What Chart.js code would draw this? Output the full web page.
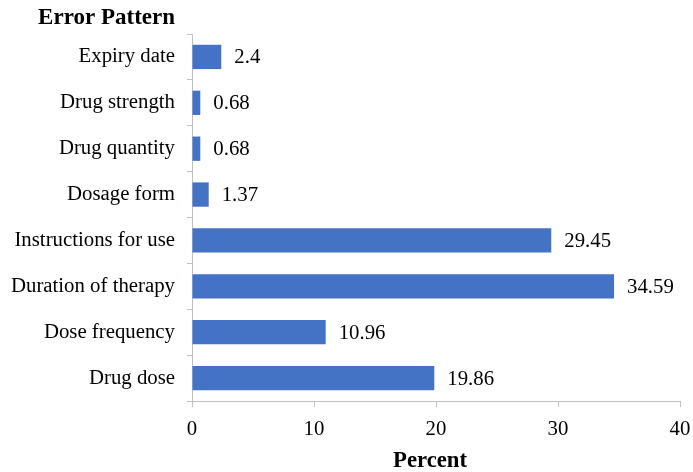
<!DOCTYPE html>
<html>
<head>
<meta charset="utf-8">
<script src="https://cdn.jsdelivr.net/npm/chart.js@4/dist/chart.umd.min.js"></script>
<style>
  html, body { margin: 0; padding: 0; background: #fff; }
  #wrap { width: 693px; height: 472px; }
</style>
</head>
<body>
<div id="wrap"><canvas id="c" width="693" height="472"></canvas></div>
<script>
// Error categories, listed top to bottom
const categories = [
  'Expiry date',
  'Drug strength',
  'Drug quantity',
  'Dosage form',
  'Instructions for use',
  'Duration of therapy',
  'Dose frequency',
  'Drug dose'
];
// Share of errors per category (%)
const percents = [2.4, 0.68, 0.68, 1.37, 29.45, 34.59, 10.96, 19.86];
const percentLabels = ['2.4', '0.68', '0.68', '1.37', '29.45', '34.59', '10.96', '19.86'];
const xTicks = [0, 10, 20, 30, 40];

const SERIF = "'Liberation Serif', 'Times New Roman', serif";
const AXIS_GREY = '#bfbfbf';
const TEXT_SIZE = 20.8;

// Writes each value just past the end of its bar
const valueLabels = {
  id: 'valueLabels',
  afterDatasetsDraw(chart) {
    const ctx = chart.ctx;
    const meta = chart.getDatasetMeta(0);
    ctx.save();
    ctx.font = TEXT_SIZE + 'px ' + SERIF;
    ctx.fillStyle = '#000';
    ctx.textAlign = 'left';
    ctx.textBaseline = 'middle';
    meta.data.forEach((bar, i) => {
      ctx.fillText(percentLabels[i], bar.x + 13, bar.y + 1);
    });
    ctx.restore();
  }
};

// Heading above the category labels and caption under the value ticks
const captions = {
  id: 'captions',
  afterDraw(chart) {
    const ctx = chart.ctx;
    const area = chart.chartArea;
    ctx.save();
    ctx.fillStyle = '#000';
    ctx.textBaseline = 'middle';

    ctx.font = 'bold 23px ' + SERIF;
    ctx.textAlign = 'right';
    ctx.fillText('Error Pattern', area.left - 17, 18);

    ctx.font = 'bold 22.7px ' + SERIF;
    ctx.textAlign = 'center';
    ctx.fillText('Percent', (area.left + area.right) / 2 - 6, chart.height - 11);
    ctx.restore();
  }
};

new Chart(document.getElementById('c'), {
  type: 'bar',
  data: {
    labels: categories,
    datasets: [{
      data: percents,
      backgroundColor: '#4472C4',
      borderWidth: 0,
      barPercentage: 0.53,
      categoryPercentage: 1.0
    }]
  },
  plugins: [valueLabels, captions],
  options: {
    indexAxis: 'y',
    responsive: false,
    animation: false,
    layout: { padding: { left: 0, right: 13, top: 34, bottom: 0 } },
    plugins: {
      legend: { display: false },
      tooltip: { enabled: false },
      title: { display: false }
    },
    scales: {
      x: {
        min: 0,
        max: 40,
        afterBuildTicks(scale) {
          scale.ticks = xTicks.map(v => ({ value: v }));
        },
        afterFit(scale) {
          scale.height = 71;
          scale.paddingLeft = 0;
          scale.paddingRight = 0;
        },
        border: { display: true, color: AXIS_GREY, width: 1 },
        grid: {
          drawOnChartArea: false,
          drawTicks: true,
          tickLength: 6,
          color: AXIS_GREY
        },
        ticks: {
          color: '#000',
          padding: 10,
          font: { family: SERIF, size: TEXT_SIZE }
        }
      },
      y: {
        afterFit(scale) {
          scale.width = 192;
          scale.paddingTop = 0;
          scale.paddingBottom = 0;
        },
        border: { display: true, color: AXIS_GREY, width: 1 },
        grid: {
          offset: true,
          drawOnChartArea: false,
          drawTicks: true,
          tickLength: 5,
          color: AXIS_GREY
        },
        ticks: {
          color: '#000',
          padding: 12,
          font: { family: SERIF, size: TEXT_SIZE }
        }
      }
    }
  }
});
</script>
</body>
</html>
